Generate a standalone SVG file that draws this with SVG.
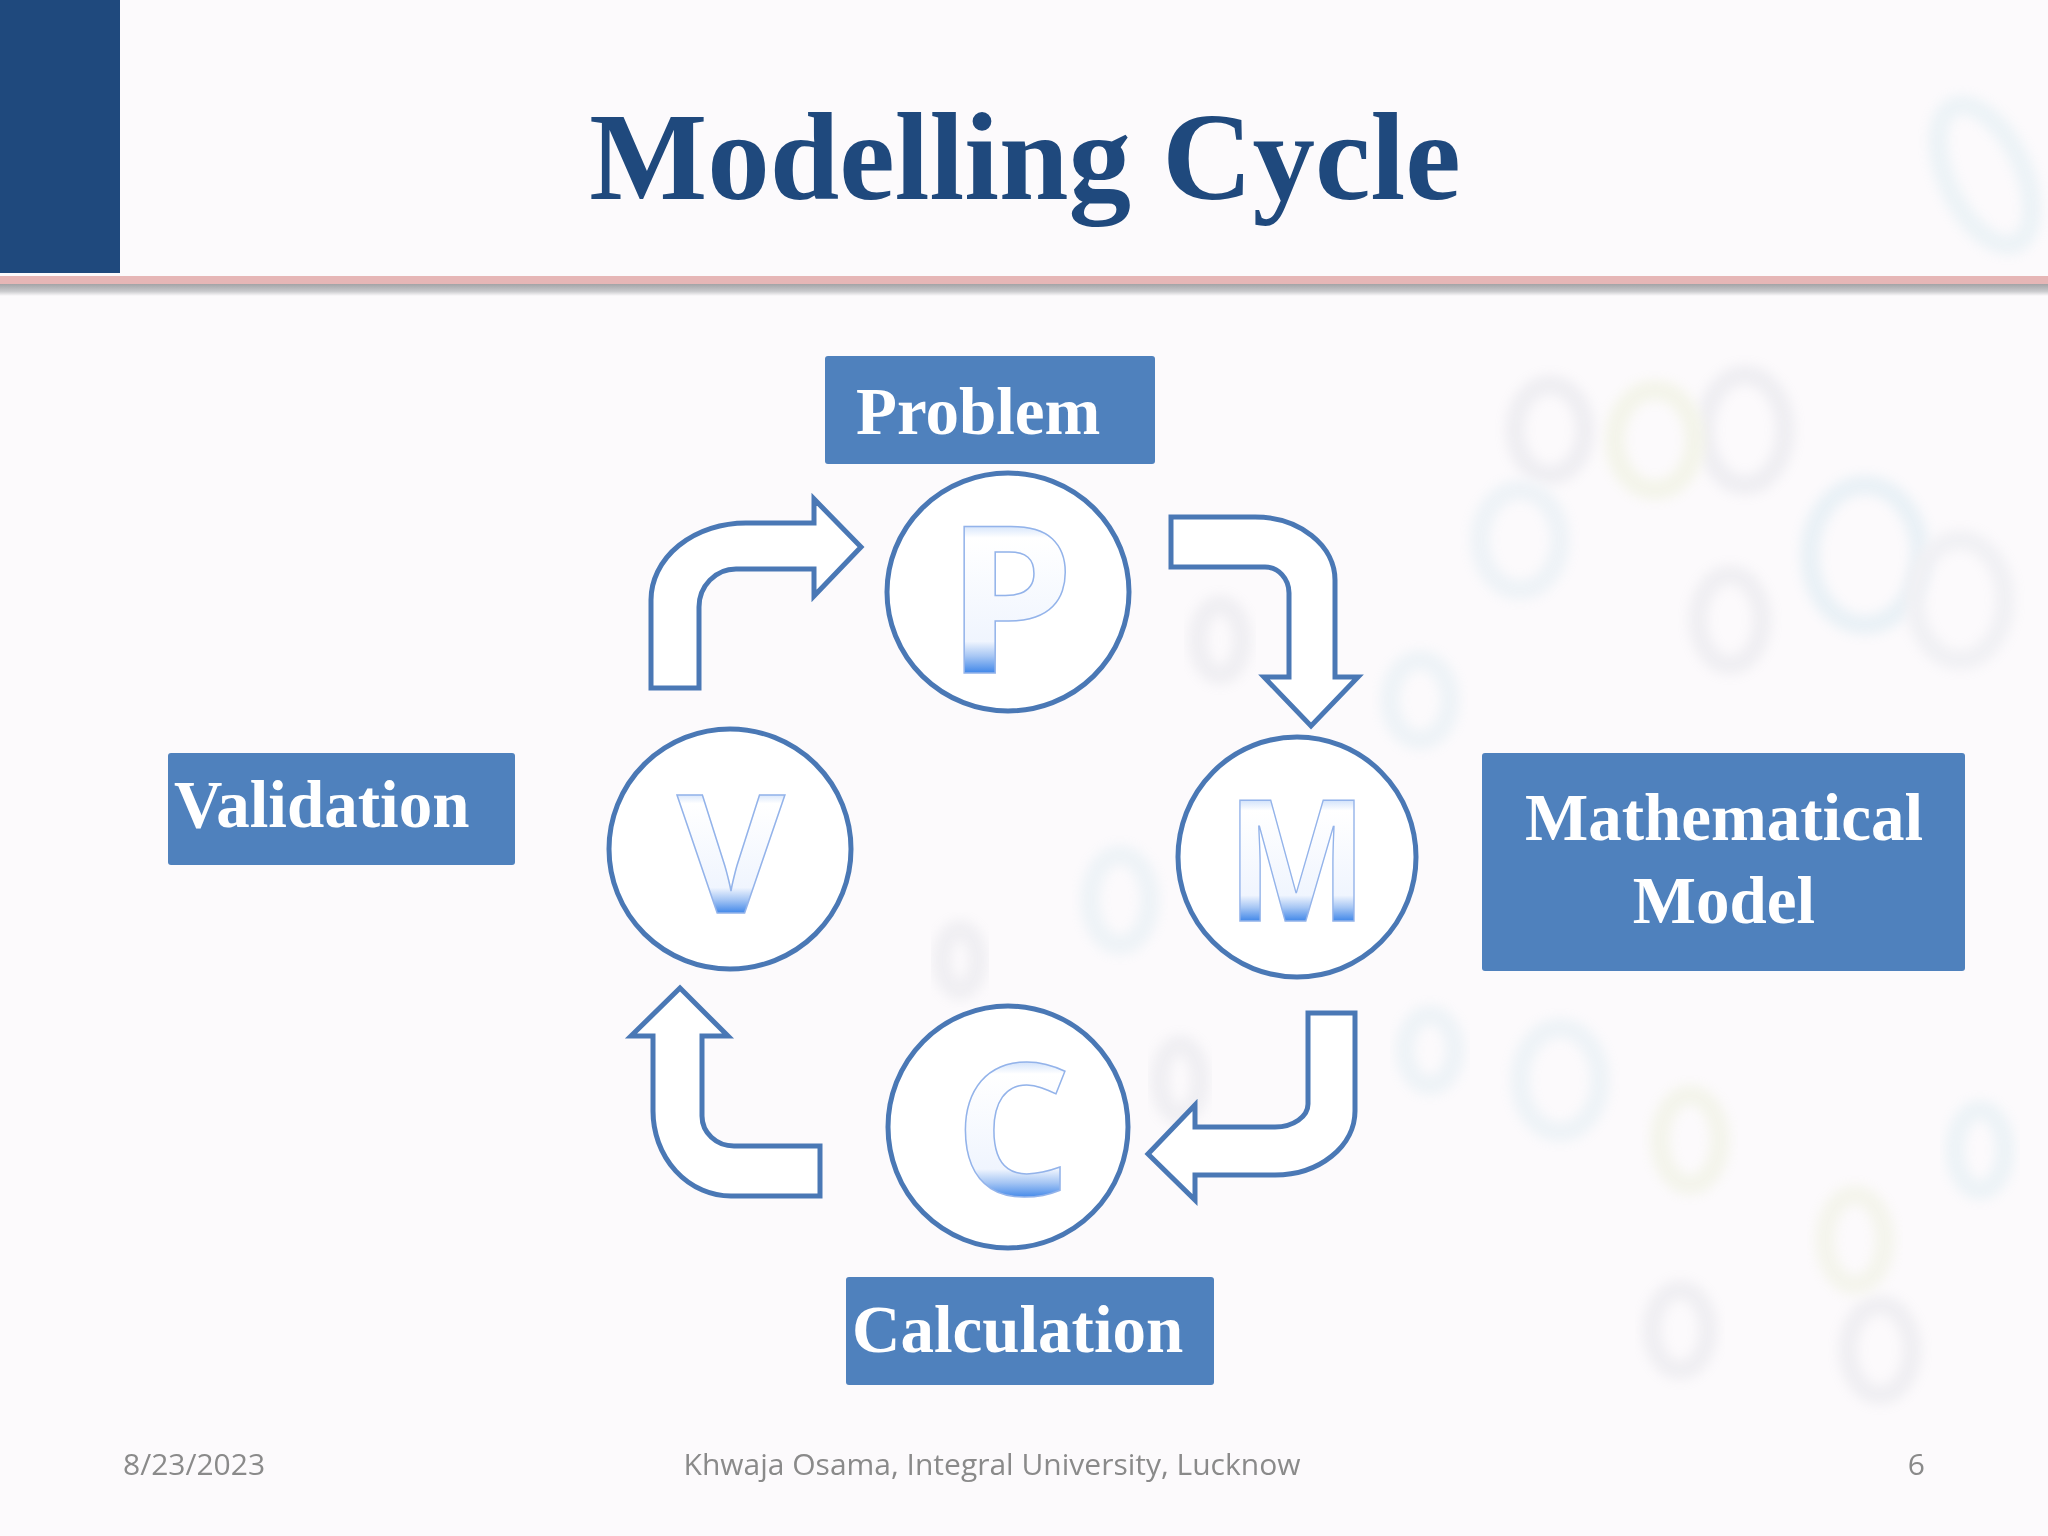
<svg xmlns="http://www.w3.org/2000/svg" width="2048" height="1536" viewBox="0 0 2048 1536">
  <defs>
    <style>
      .box { fill: #4F81BD; }
      .lbl { font-family: "Liberation Serif", "Times New Roman", serif; font-weight: bold; font-size: 67px; fill: #FFFFFF; }
      .ring { fill: #FFFFFF; stroke: #4A78B5; stroke-width: 5; }
      .arrow { fill: #FFFFFF; stroke: #4A78B5; stroke-width: 5; stroke-linejoin: miter; }
      .letter { font-family: "Open Sans", "Liberation Sans", sans-serif; font-weight: 700; stroke: #93B3EA; stroke-width: 1.5; }
      .foot { font-family: "Open Sans", "Liberation Sans", sans-serif; font-size: 30px; fill: #8A8A8A; }
      .bgd { fill: none; stroke-width: 20; filter: url(#soft); }
    </style>
    <linearGradient id="letterGrad" x1="0" y1="0" x2="0" y2="1">
      <stop offset="0" stop-color="#D6E5FB"/>
      <stop offset="0.08" stop-color="#FFFFFF"/>
      <stop offset="0.78" stop-color="#F0F5FE"/>
      <stop offset="0.88" stop-color="#A6C6F4"/>
      <stop offset="1" stop-color="#3A83E8"/>
    </linearGradient>
    <linearGradient id="gradP" href="#letterGrad" gradientUnits="userSpaceOnUse" x1="0" y1="526" x2="0" y2="674"/>
    <linearGradient id="gradV" href="#letterGrad" gradientUnits="userSpaceOnUse" x1="0" y1="794" x2="0" y2="914"/>
    <linearGradient id="gradM" href="#letterGrad" gradientUnits="userSpaceOnUse" x1="0" y1="801" x2="0" y2="922"/>
    <linearGradient id="gradC" href="#letterGrad" gradientUnits="userSpaceOnUse" x1="0" y1="1063" x2="0" y2="1199"/>
    <linearGradient id="shadowGrad" x1="0" y1="0" x2="0" y2="1">
      <stop offset="0" stop-color="#A3A3A6"/>
      <stop offset="0.6" stop-color="#C9C9CC"/>
      <stop offset="1" stop-color="#FCFAFC"/>
    </linearGradient>
    <filter id="soft" x="-30%" y="-30%" width="160%" height="160%">
      <feGaussianBlur stdDeviation="6"/>
    </filter>
  </defs>

  <!-- background -->
  <rect x="0" y="0" width="2048" height="1536" fill="#FCFAFC"/>
  <g id="background-texture" opacity="0.16">
    <ellipse class="bgd" cx="1985" cy="175" rx="38" ry="75" stroke="#9FD3DE" transform="rotate(-25 1985 175)"/>
    <ellipse class="bgd" cx="1865" cy="555" rx="55" ry="70" stroke="#8CC6DA"/>
    <ellipse class="bgd" cx="1745" cy="430" rx="40" ry="55" stroke="#AEB6C2"/>
    <ellipse class="bgd" cx="1655" cy="440" rx="40" ry="50" stroke="#CADC8E"/>
    <ellipse class="bgd" cx="1550" cy="430" rx="35" ry="45" stroke="#AEB6C2"/>
    <ellipse class="bgd" cx="1730" cy="620" rx="32" ry="45" stroke="#B3BAC4"/>
    <ellipse class="bgd" cx="1960" cy="600" rx="45" ry="60" stroke="#BAC6CF"/>
    <ellipse class="bgd" cx="1520" cy="540" rx="40" ry="50" stroke="#A9D2E0"/>
    <ellipse class="bgd" cx="1420" cy="700" rx="30" ry="40" stroke="#A8D4E0"/>
    <ellipse class="bgd" cx="1560" cy="1080" rx="40" ry="52" stroke="#A8D4E0"/>
    <ellipse class="bgd" cx="1690" cy="1140" rx="30" ry="45" stroke="#CBDC98"/>
    <ellipse class="bgd" cx="1680" cy="1330" rx="28" ry="40" stroke="#B3BAC4"/>
    <ellipse class="bgd" cx="1880" cy="1350" rx="32" ry="45" stroke="#B3BAC4"/>
    <ellipse class="bgd" cx="1855" cy="1240" rx="30" ry="45" stroke="#CFDD9E"/>
    <ellipse class="bgd" cx="1980" cy="1150" rx="25" ry="40" stroke="#A0D3DE"/>
    <ellipse class="bgd" cx="1430" cy="1050" rx="25" ry="35" stroke="#A8D4E0"/>
    <ellipse class="bgd" cx="1120" cy="900" rx="30" ry="45" stroke="#A8D4E0"/>
    <ellipse class="bgd" cx="1180" cy="1080" rx="20" ry="35" stroke="#B3BAC4"/>
    <ellipse class="bgd" cx="960" cy="960" rx="18" ry="30" stroke="#B3BAC4"/>
    <ellipse class="bgd" cx="1220" cy="640" rx="22" ry="35" stroke="#B3BAC4"/>
  </g>

  <!-- header -->
  <g id="header">
    <rect x="0" y="0" width="120" height="273" fill="#1F497D"/>
    <rect x="0" y="276" width="2048" height="8" fill="#E6B6B6"/>
    <rect x="0" y="284" width="2048" height="12" fill="url(#shadowGrad)"/>
    <text x="1025" y="199" text-anchor="middle" font-family="'Liberation Serif', 'Times New Roman', serif" font-weight="bold" font-size="125" fill="#1F497D">Modelling Cycle</text>
  </g>

  <!-- connectors -->
  <g id="connectors">
    <path id="arrow-v-to-p" class="arrow" d="M 651,688 L 651,600 A 95 77 0 0 1 746,523 L 814,523 L 814,499 L 861,547 L 814,596 L 814,569 L 736,569 A 37 38 0 0 0 699,607 L 699,688 Z"/>
    <path id="arrow-p-to-m" class="arrow" d="M 1171,517 L 1255,517 A 80 63 0 0 1 1335,580 L 1335,677 L 1358,677 L 1311,726 L 1264,677 L 1289,677 L 1289,593 A 24 26 0 0 0 1265,567 L 1171,567 Z"/>
    <path id="arrow-m-to-c" class="arrow" d="M 1308,1013 L 1355,1013 L 1355,1111 A 80 64 0 0 1 1275,1175 L 1195,1175 L 1195,1200 L 1148,1154 L 1195,1105 L 1195,1127 L 1275,1127 A 33 23 0 0 0 1308,1104 Z"/>
    <path id="arrow-c-to-v" class="arrow" d="M 680,988 L 728,1036 L 702,1036 L 702,1116 A 32 30 0 0 0 734,1146 L 820,1146 L 820,1196 L 731,1196 A 78 85 0 0 1 653,1111 L 653,1036 L 631,1036 Z"/>
  </g>

  <!-- nodes -->
  <g id="node-p">
    <ellipse class="ring" cx="1008" cy="592" rx="121" ry="119"/>
    <text class="letter" x="1010" y="673" text-anchor="middle" font-size="205" fill="url(#gradP)">P</text>
  </g>
  <g id="node-m">
    <ellipse class="ring" cx="1297" cy="857" rx="119" ry="120"/>
    <text class="letter" x="1297" y="921" text-anchor="middle" font-size="168" textLength="141" lengthAdjust="spacingAndGlyphs" fill="url(#gradM)">M</text>
  </g>
  <g id="node-c">
    <ellipse class="ring" cx="1008" cy="1127" rx="120" ry="121"/>
    <text class="letter" x="1013" y="1195" text-anchor="middle" font-size="183" fill="url(#gradC)">C</text>
  </g>
  <g id="node-v">
    <ellipse class="ring" cx="730" cy="849" rx="121" ry="120"/>
    <text class="letter" x="731" y="913" text-anchor="middle" font-size="166" fill="url(#gradV)">V</text>
  </g>

  <!-- labels -->
  <g id="label-problem">
    <rect class="box" x="825" y="356" width="330" height="108" rx="3"/>
    <text class="lbl" x="856" y="434">Problem</text>
  </g>
  <g id="label-validation">
    <rect class="box" x="168" y="753" width="347" height="112" rx="3"/>
    <text class="lbl" x="174" y="827">Validation</text>
  </g>
  <g id="label-model">
    <rect class="box" x="1482" y="753" width="483" height="218" rx="3"/>
    <text class="lbl" x="1724" y="840" text-anchor="middle">Mathematical</text>
    <text class="lbl" x="1724" y="923" text-anchor="middle">Model</text>
  </g>
  <g id="label-calculation">
    <rect class="box" x="846" y="1277" width="368" height="108" rx="3"/>
    <text class="lbl" x="852" y="1352">Calculation</text>
  </g>

  <!-- footer -->
  <g id="footer">
    <text class="foot" x="123" y="1475">8/23/2023</text>
    <text class="foot" x="992" y="1475" text-anchor="middle">Khwaja Osama, Integral University, Lucknow</text>
    <text class="foot" x="1925" y="1475" text-anchor="end">6</text>
  </g>
</svg>
